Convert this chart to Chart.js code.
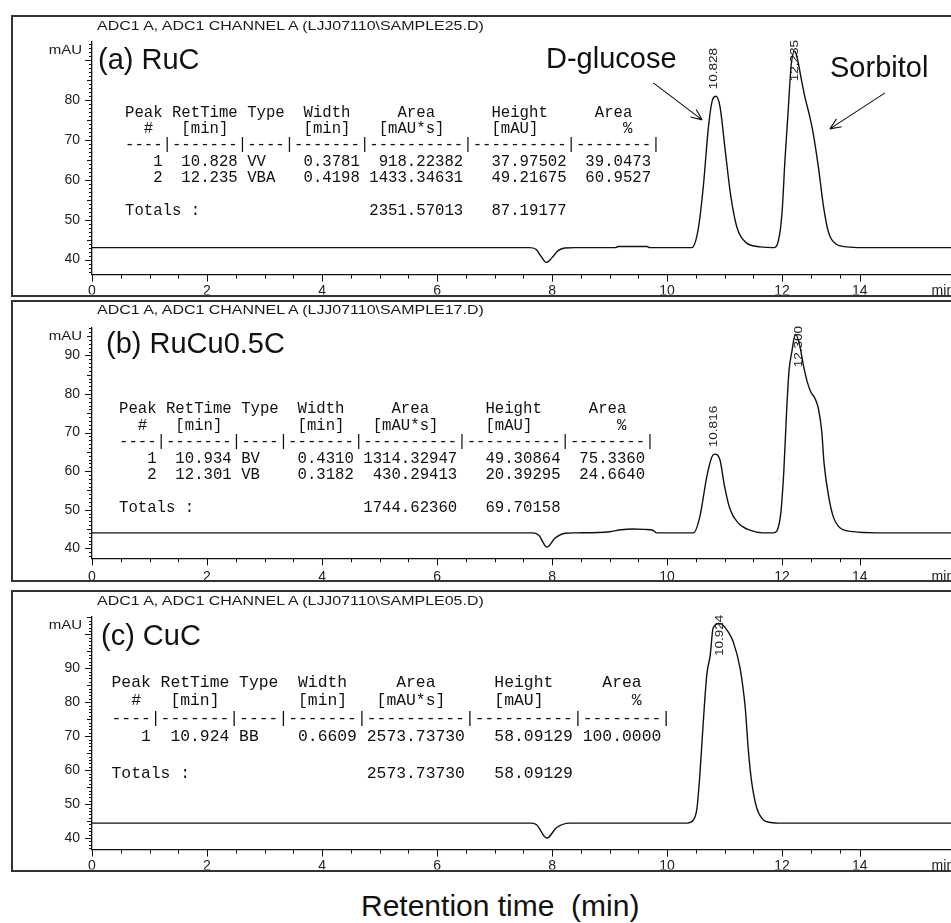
<!DOCTYPE html>
<html>
<head>
<meta charset="utf-8">
<title>HPLC chromatograms</title>
<script src="https://cdn.jsdelivr.net/npm/chart.js"></script>
<style>
  html, body { margin: 0; padding: 0; background: #fff; }
  #page { position: relative; width: 951px; height: 923px; overflow: hidden; background: #fff; }
  .panel { position: absolute; left: 11px; width: 960px; height: 282px; border: 2px solid #333; box-sizing: border-box; overflow: hidden; }
  .panel canvas { position: absolute; left: 0; top: 0; }
  .txt { position: absolute; white-space: pre; line-height: 1; color: #111; font-family: "Liberation Sans", Arial, sans-serif; }
  .ttl { font-size: 12px; transform: scaleX(1.33); transform-origin: 0 0; color: #1a1a1a; }
  .big { font-size: 29px; }
  .tbl { position: absolute; margin: 0; font-family: "Liberation Mono", "Courier New", monospace; color: #111; white-space: pre; }
</style>
</head>
<body>
<div id="page">
  <div class="panel" style="top:15px"><canvas id="chartA" width="956" height="278"></canvas></div>
  <div class="panel" style="top:300px"><canvas id="chartB" width="956" height="278"></canvas></div>
  <div class="panel" style="top:590px"><canvas id="chartC" width="956" height="278"></canvas></div>

  <div class="txt ttl" style="left:97px;top:20px">ADC1 A, ADC1 CHANNEL A (LJJ07110\SAMPLE25.D)</div>
  <div class="txt ttl" style="left:97px;top:304px">ADC1 A, ADC1 CHANNEL A (LJJ07110\SAMPLE17.D)</div>
  <div class="txt ttl" style="left:97px;top:595px">ADC1 A, ADC1 CHANNEL A (LJJ07110\SAMPLE05.D)</div>

  <div class="txt big" style="left:98px;top:45px">(a) RuC</div>
  <div class="txt big" style="left:106px;top:329px">(b) RuCu0.5C</div>
  <div class="txt big" style="left:101px;top:621px">(c) CuC</div>

  <div class="txt big" style="left:546px;top:44px">D-glucose</div>
  <div class="txt big" style="left:830px;top:53px">Sorbitol</div>

  <pre class="tbl" id="tblA" style="left:125px;top:104.6px;font-size:15.67px;line-height:16.4px"></pre>
  <pre class="tbl" id="tblB" style="left:119px;top:401px;font-size:15.67px;line-height:16.5px"></pre>
  <pre class="tbl" id="tblC" style="left:111.5px;top:673.5px;font-size:16.37px;line-height:18.2px"></pre>

  <div class="txt" style="left:361px;top:891px;font-size:30px">Retention time  (min)</div>
</div>

<script>
// retention time (min) / signal (mAU)
const timeA = [0, 7.6, 7.72, 7.8, 7.9, 8.0, 8.1, 8.22, 8.4, 9.1, 9.15, 9.65, 9.7, 10.43, 10.54, 10.63, 10.72, 10.79, 10.85, 10.92, 11.01, 11.1, 11.21, 11.38, 11.62, 11.85, 11.94, 12.0, 12.05, 12.1, 12.16, 12.22, 12.27, 12.33, 12.4, 12.47, 12.54, 12.63, 12.72, 12.81, 12.95, 13.12, 13.4, 15.25];
const signalA = [43.0, 43.0, 42.6, 41.0, 39.3, 40.5, 42.2, 42.9, 43.0, 43.0, 43.3, 43.3, 43.0, 43.0, 47.5, 58.3, 73.3, 80.0, 80.9, 78.3, 67.5, 56.7, 48.3, 44.2, 43.2, 43.0, 45.0, 52.0, 65.0, 76.0, 89.0, 92.2, 90.0, 85.5, 80.5, 76.5, 71.7, 63.3, 53.3, 46.7, 43.8, 43.2, 43.0, 43.0];

const timeB = [0, 7.65, 7.77, 7.91, 8.05, 8.23, 8.4, 9.0, 9.2, 9.4, 9.6, 9.76, 9.82, 10.46, 10.57, 10.69, 10.78, 10.83, 10.92, 11.0, 11.1, 11.24, 11.44, 11.67, 11.85, 11.97, 12.03, 12.08, 12.12, 12.17, 12.23, 12.3, 12.37, 12.44, 12.5, 12.57, 12.63, 12.69, 12.73, 12.81, 12.89, 13.0, 13.24, 13.65, 15.25];
const signalB = [44.0, 44.0, 43.4, 40.3, 42.6, 43.9, 44.0, 44.3, 44.8, 45.0, 44.9, 44.6, 44.0, 44.0, 48.2, 58.5, 63.7, 64.4, 62.9, 56.0, 49.9, 46.5, 44.7, 44.0, 44.0, 48.2, 60.0, 76.0, 86.0, 91.0, 95.5, 93.0, 87.5, 83.0, 80.5, 78.9, 76.3, 70.2, 62.0, 53.4, 48.2, 45.4, 44.3, 44.0, 44.0];

const timeC = [0, 7.65, 7.73, 7.91, 8.08, 8.31, 10.35, 10.46, 10.52, 10.57, 10.63, 10.69, 10.75, 10.8, 10.9, 10.95, 11.06, 11.15, 11.27, 11.36, 11.41, 11.47, 11.56, 11.67, 11.8, 12.0, 15.25];
const signalC = [44.4, 44.4, 43.9, 40.0, 43.1, 44.4, 44.4, 45.4, 48.8, 58.6, 74.3, 88.0, 93.9, 101.8, 103.2, 103.0, 100.8, 97.8, 90.0, 78.2, 66.5, 56.6, 48.8, 45.4, 44.6, 44.4, 44.4];

const xTickValues = [0, 2, 4, 6, 8, 10, 12, 13.35];
const xTickLabels = ['0', '2', '4', '6', '8', '10', '12', '14'];
const yTicksA = [40, 50, 60, 70, 80];
const yTicksB = [40, 50, 60, 70, 80, 90];
const yTicksC = [40, 50, 60, 70, 80, 90];

const peakLabelsA = ['10.828', '12.235'];
const peakLabelsB = ['10.816', '12.300'];
const peakLabelsC = ['10.924'];

const tableA = [
  'Peak RetTime Type  Width     Area      Height     Area',
  '  #   [min]        [min]   [mAU*s]     [mAU]         %',
  '----|-------|----|-------|----------|----------|--------|',
  '   1  10.828 VV    0.3781  918.22382   37.97502  39.0473',
  '   2  12.235 VBA   0.4198 1433.34631   49.21675  60.9527',
  '',
  'Totals :                  2351.57013   87.19177'
];
const tableB = [
  'Peak RetTime Type  Width     Area      Height     Area',
  '  #   [min]        [min]   [mAU*s]     [mAU]         %',
  '----|-------|----|-------|----------|----------|--------|',
  '   1  10.934 BV    0.4310 1314.32947   49.30864  75.3360',
  '   2  12.301 VB    0.3182  430.29413   20.39295  24.6640',
  '',
  'Totals :                  1744.62360   69.70158'
];
const tableC = [
  'Peak RetTime Type  Width     Area      Height     Area',
  '  #   [min]        [min]   [mAU*s]     [mAU]         %',
  '----|-------|----|-------|----------|----------|--------|',
  '   1  10.924 BB    0.6609 2573.73730   58.09129 100.0000',
  '',
  'Totals :                  2573.73730   58.09129'
];

document.querySelector('#tblA').textContent = tableA.join('\n');
document.querySelector('#tblB').textContent = tableB.join('\n');
document.querySelector('#tblC').textContent = tableC.join('\n');

Chart.defaults.font.family = '"Liberation Sans", Arial, sans-serif';

const X_MAX = 15.25;

const panels = [
  { id: '#chartA', time: timeA, signal: signalA, yTicks: yTicksA, peaks: peakLabelsA,
    yMin: 36.25, yMax: 94.5, padTop: 25, xAxisH: 20, xPad: 8.6,
    arrows: [{ from: [9.76, 84.25], to: [10.61, 75.0] }, { from: [13.79, 81.75], to: [12.83, 72.75] }] },
  { id: '#chartB', time: timeB, signal: signalB, yTicks: yTicksB, peaks: peakLabelsB,
    yMin: 37.4, yMax: 97.1, padTop: 26, xAxisH: 21.7, xPad: 10, arrows: [] },
  { id: '#chartC', time: timeC, signal: signalC, yTicks: yTicksC, peaks: peakLabelsC,
    yMin: 36.6, yMax: 105.2, padTop: 24.7, xAxisH: 20, xPad: 8.3, arrows: [] }
];

function marks(p) {
  return {
    id: 'marks',
    afterDraw(chart) {
      const ctx = chart.ctx, xs = chart.scales.x, ys = chart.scales.y, a = chart.chartArea;
      ctx.save();
      ctx.strokeStyle = '#111';
      ctx.fillStyle = '#1a1a1a';
      ctx.lineWidth = 1;

      // tick marks: minor every 0.5 min / 1 mAU
      ctx.beginPath();
      for (let t = 0.5; t <= 13; t += 0.5) {
        if (t % 2 === 0) continue;
        const x = Math.round(xs.getPixelForValue(t)) + 0.5;
        ctx.moveTo(x, a.bottom); ctx.lineTo(x, a.bottom + 4);
      }
      xTickValues.forEach(v => {
        const x = Math.round(xs.getPixelForValue(v)) + 0.5;
        ctx.moveTo(x, a.bottom); ctx.lineTo(x, a.bottom + 7);
      });
      for (let v = Math.ceil(p.yMin); v <= p.yMax; v++) {
        const y = Math.round(ys.getPixelForValue(v)) + 0.5;
        const len = v % 10 === 0 ? 7 : (v % 5 === 0 ? 5 : 3);
        ctx.moveTo(a.left, y); ctx.lineTo(a.left - len, y);
      }
      ctx.stroke();

      // unit labels
      ctx.save();
      ctx.font = '12px "Liberation Sans", Arial, sans-serif';
      ctx.textAlign = 'right';
      ctx.textBaseline = 'middle';
      ctx.translate(a.left - 10, a.top + 8.5);
      ctx.scale(1.25, 1);
      ctx.fillText('mAU', 0, 0);
      ctx.restore();

      ctx.font = '14px "Liberation Sans", Arial, sans-serif';
      ctx.textAlign = 'left';
      ctx.textBaseline = 'middle';
      ctx.fillText('min', xs.getPixelForValue(14.6), a.bottom + p.xPad + 8.4);

      // retention time labels over the peaks
      ctx.font = '10px "Liberation Sans", Arial, sans-serif';
      p.peaks.forEach(lbl => {
        const t = Number(lbl);
        let top = -Infinity;
        p.time.forEach((tt, i) => { if (Math.abs(tt - t) < 0.2) top = Math.max(top, p.signal[i]); });
        const len = ctx.measureText(lbl).width * 1.35;
        const bottom = Math.max(ys.getPixelForValue(top) - 7, a.top - 2 + len);
        ctx.save();
        ctx.translate(xs.getPixelForValue(t), bottom);
        ctx.rotate(-Math.PI / 2);
        ctx.scale(1.35, 1);
        ctx.fillText(lbl, 0, 0);
        ctx.restore();
      });

      // arrows to the named peaks
      ctx.lineWidth = 1.1;
      p.arrows.forEach(ar => {
        const x1 = xs.getPixelForValue(ar.from[0]), y1 = ys.getPixelForValue(ar.from[1]);
        const x2 = xs.getPixelForValue(ar.to[0]), y2 = ys.getPixelForValue(ar.to[1]);
        const ang = Math.atan2(y2 - y1, x2 - x1);
        ctx.beginPath();
        ctx.moveTo(x1, y1); ctx.lineTo(x2, y2);
        [-1, 1].forEach(s => {
          ctx.moveTo(x2, y2);
          ctx.lineTo(x2 - 12 * Math.cos(ang + s * 0.4), y2 - 12 * Math.sin(ang + s * 0.4));
        });
        ctx.stroke();
      });
      ctx.restore();
    }
  };
}

panels.forEach(p => {
  new Chart(document.querySelector(p.id), {
    type: 'line',
    data: {
      datasets: [{
        data: p.time.map((t, i) => ({ x: t, y: p.signal[i] })),
        borderColor: '#111',
        borderWidth: 1.4,
        pointRadius: 0,
        cubicInterpolationMode: 'monotone',
        fill: false
      }]
    },
    options: {
      responsive: false,
      animation: false,
      events: [],
      layout: { padding: { top: p.padTop, left: 0, right: 0, bottom: 0 } },
      plugins: { legend: { display: false }, tooltip: { enabled: false } },
      scales: {
        x: {
          type: 'linear', min: 0, max: X_MAX,
          grid: { display: false, drawTicks: false },
          border: { display: true, color: '#111', width: 1.3 },
          afterFit: s => { s.height = p.xAxisH; },
          afterBuildTicks: s => { s.ticks = xTickValues.map(v => ({ value: v })); },
          ticks: {
            autoSkip: false, maxRotation: 0, padding: p.xPad, color: '#222',
            font: { size: 14 },
            callback: (v, i) => xTickLabels[i]
          }
        },
        y: {
          type: 'linear', min: p.yMin, max: p.yMax,
          grid: { display: false, drawTicks: false },
          border: { display: true, color: '#111', width: 1.3 },
          afterFit: s => { s.width = 79; },
          afterBuildTicks: s => { s.ticks = p.yTicks.map(v => ({ value: v })); },
          ticks: { autoSkip: false, padding: 12, color: '#222', font: { size: 14 } }
        }
      }
    },
    plugins: [marks(p)]
  });
});
</script>
</body>
</html>
